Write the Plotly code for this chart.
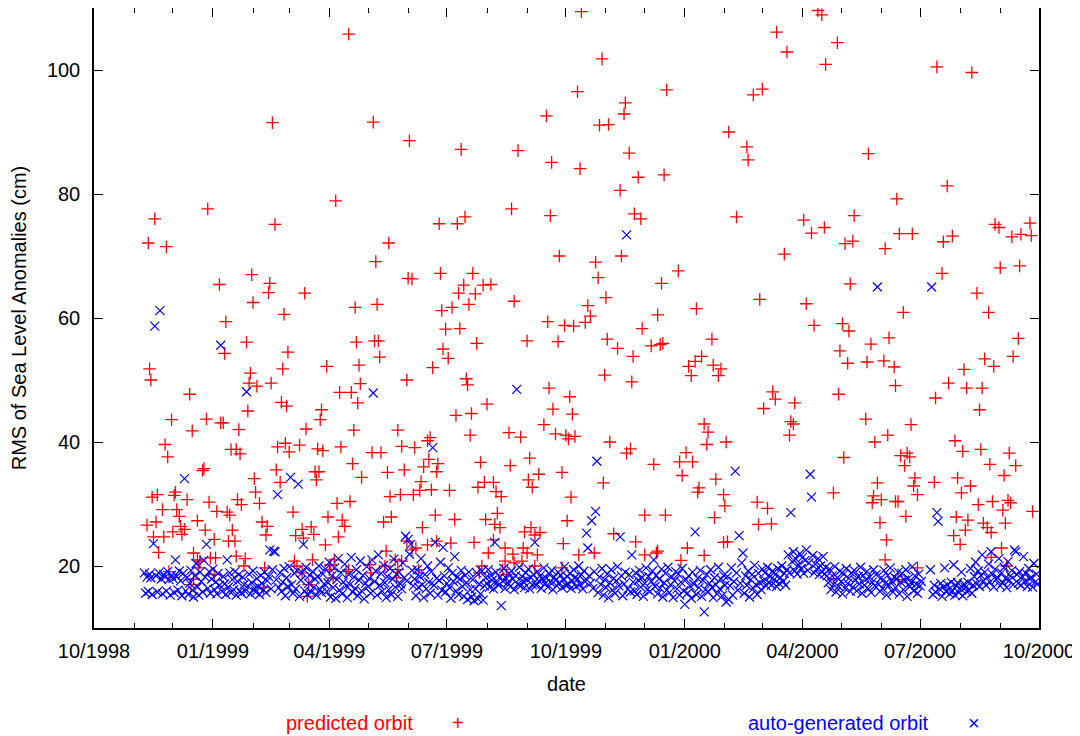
import pandas as pd
import plotly.graph_objects as go

START = "1998-10-01"

# predicted orbit: (day offset from START, RMS value in cm)
predicted = [
    (88, 77.6), (47, 76.0), (42, 72.1), (56, 71.5), (122, 67.0), (97, 65.4), (123, 62.5), (102, 59.4),
    (118, 56.1), (101, 54.3), (43, 51.8), (44, 50.0), (121, 51.1), (120, 49.5), (126, 49.0), (74, 47.7),
    (119, 45.0), (60, 43.6), (87, 43.7), (98, 43.1), (100, 43.1), (76, 41.8), (112, 42.0), (55, 39.6),
    (57, 37.6), (106, 38.8), (110, 38.8), (113, 38.1), (85, 35.7), (84, 35.4), (124, 34.1), (125, 31.9),
    (45, 31.1), (49, 31.5), (62, 31.4), (63, 31.9), (72, 30.7), (53, 29.1), (64, 29.1), (89, 30.3),
    (111, 30.7), (114, 29.9), (95, 28.8), (103, 28.7), (105, 28.2), (41, 26.6), (48, 27.1), (66, 28.0),
    (80, 27.3), (61, 25.5), (67, 26.4), (70, 25.9), (68, 25.1), (86, 25.8), (107, 25.8), (104, 24.0),
    (109, 24.0), (46, 24.7), (54, 24.7), (50, 22.2), (93, 24.3), (77, 22.1),
    (197, 105.8), (138, 91.5), (216, 91.6), (244, 88.6), (187, 78.9), (140, 75.1), (228, 72.1), (218, 69.1),
    (136, 65.6), (135, 64.1), (163, 64.0), (243, 66.4), (246, 66.3), (147, 60.6), (202, 61.7), (219, 62.2),
    (203, 56.1), (217, 56.3), (220, 56.3), (221, 53.7), (150, 54.5), (146, 51.8), (180, 52.2), (205, 52.4),
    (242, 50.0), (137, 49.5), (206, 49.4), (190, 48.0), (199, 48.0), (204, 46.3), (145, 46.4), (149, 45.8),
    (176, 45.2), (175, 43.6), (164, 42.1), (201, 41.9), (235, 41.9), (142, 39.2), (148, 39.8), (151, 38.4),
    (159, 39.5), (173, 38.9), (177, 38.6), (191, 39.2), (215, 38.3), (222, 38.3), (238, 39.3), (248, 39.1),
    (200, 36.5), (141, 35.5), (144, 33.5), (171, 35.2), (174, 35.2), (172, 33.9), (207, 34.3), (227, 35.1),
    (240, 35.5), (128, 30.1), (188, 30.1), (198, 30.4), (229, 31.2), (237, 31.5), (247, 31.5), (154, 28.7),
    (130, 27.1), (134, 26.4), (133, 25.0), (161, 25.9), (156, 24.9), (162, 24.5), (168, 26.3), (170, 25.1),
    (181, 27.9), (192, 27.4), (194, 26.4), (189, 24.7), (179, 23.4), (224, 27.1), (230, 27.9), (226, 22.4),
    (374, 96.5), (350, 92.6), (284, 87.2), (328, 87.0), (354, 85.1), (376, 84.1), (323, 77.6), (353, 76.5),
    (267, 75.2), (281, 75.2), (287, 76.3), (360, 70.0), (268, 67.2), (293, 67.2), (286, 65.3), (282, 64.0),
    (295, 63.9), (301, 65.3), (307, 65.4), (290, 62.2), (269, 61.2), (277, 61.7), (325, 62.7), (272, 58.2),
    (283, 58.3), (296, 55.9), (351, 59.4), (364, 58.8), (371, 58.7), (335, 56.3), (359, 56.2), (270, 55.0),
    (274, 53.5), (262, 52.0), (288, 50.2), (289, 49.2), (352, 48.7), (368, 47.3), (304, 46.1), (280, 44.3),
    (292, 44.6), (355, 45.3), (370, 44.5), (348, 42.8), (291, 41.1), (321, 41.5), (330, 40.8), (357, 41.3),
    (365, 41.1), (367, 40.5), (372, 40.9), (260, 40.7), (258, 40.2), (259, 37.2), (255, 36.0), (266, 36.5),
    (265, 35.2), (299, 36.7), (322, 36.2), (337, 37.4), (362, 35.1), (344, 34.8), (336, 33.9), (339, 32.7),
    (302, 33.5), (309, 33.5), (297, 32.7), (311, 32.0), (315, 31.2), (253, 33.6), (261, 32.3), (252, 32.2),
    (275, 32.2), (369, 31.1), (264, 28.2), (279, 27.5), (254, 26.2), (303, 27.5), (312, 28.5), (310, 26.7),
    (314, 26.2), (366, 27.3), (333, 25.5), (338, 26.2), (345, 25.4), (341, 25.0), (294, 23.8), (363, 23.6),
    (377, 109.4), (393, 101.8), (443, 96.8), (411, 94.7), (410, 92.9), (391, 91.1), (398, 91.2), (491, 90.0),
    (414, 86.6), (421, 82.7), (441, 83.1), (407, 80.6), (418, 76.8), (423, 76.0), (497, 76.3), (408, 70.0),
    (388, 69.0), (390, 66.5), (452, 67.6), (439, 65.6), (396, 63.3), (382, 62.0), (384, 60.3), (380, 59.3),
    (466, 61.5), (436, 60.5), (424, 58.3), (397, 56.6), (405, 55.1), (431, 55.5), (438, 55.7), (440, 55.9),
    (478, 56.6), (417, 53.8), (460, 52.2), (465, 53.0), (470, 53.8), (462, 50.7), (479, 52.4), (485, 51.8),
    (483, 50.7), (395, 50.8), (416, 49.7), (472, 42.9), (475, 41.6), (474, 39.6), (489, 40.0), (399, 40.0),
    (412, 38.2), (415, 38.9), (433, 36.4), (453, 36.8), (458, 38.3), (463, 36.8), (455, 34.6), (394, 33.4),
    (481, 34.0), (467, 31.9), (468, 32.6), (487, 31.5), (488, 29.7), (426, 28.2), (442, 28.2), (480, 27.8),
    (402, 25.2), (419, 23.9), (490, 23.9), (459, 22.9),
    (560, 109.6), (563, 108.9), (528, 106.1), (575, 104.4), (536, 102.9), (566, 100.9), (510, 96.0), (517, 96.9),
    (505, 87.6), (506, 85.5), (599, 86.5), (621, 79.2), (549, 75.8), (555, 73.7), (565, 74.6), (588, 76.5),
    (581, 72.0), (587, 72.4), (612, 71.2), (534, 70.3), (585, 65.5), (515, 63.0), (551, 62.3), (557, 58.8),
    (579, 59.1), (584, 57.9), (577, 54.7), (583, 52.7), (601, 55.8), (615, 56.8), (598, 52.9), (611, 53.1),
    (619, 52.1), (620, 49.1), (525, 48.1), (527, 46.9), (518, 45.4), (542, 46.3), (539, 43.3), (541, 42.9),
    (538, 41.1), (576, 47.7), (597, 43.7), (604, 40.0), (614, 41.1), (580, 37.5), (572, 31.8), (606, 33.4),
    (603, 31.3), (609, 30.7), (602, 30.2), (620, 30.4), (513, 30.3), (521, 29.3), (514, 26.7), (524, 26.8),
    (608, 27.0), (613, 24.2),
    (652, 100.5), (679, 99.6), (660, 81.3), (623, 73.6), (633, 73.6), (657, 72.3), (664, 73.2), (697, 75.1),
    (700, 74.6), (724, 75.3), (710, 73.1), (717, 73.5), (725, 73.3), (656, 67.2), (701, 68.1), (716, 68.4),
    (683, 64.0), (626, 60.9), (692, 60.9), (715, 56.7), (711, 53.8), (689, 53.4), (696, 52.2), (673, 51.7),
    (661, 49.5), (675, 48.7), (687, 48.7), (651, 47.1), (685, 45.2), (632, 42.8), (666, 40.2), (672, 38.5),
    (686, 38.8), (708, 38.2), (624, 37.8), (629, 38.2), (631, 37.6), (627, 36.2), (693, 36.4), (713, 36.2),
    (704, 34.6), (635, 34.2), (634, 32.9), (637, 31.5), (650, 33.5), (668, 34.2), (671, 31.8), (678, 32.9),
    (622, 30.4), (684, 29.9), (695, 30.4), (707, 30.6), (709, 30.2), (703, 29.0), (726, 28.8), (628, 28.0),
    (667, 27.9), (676, 27.4), (674, 25.8), (688, 26.9), (691, 26.2), (694, 25.4), (705, 26.9), (665, 24.9),
    (670, 23.5), (702, 22.9),
    (58, 19.1), (77, 17.9), (75, 17.0), (80, 21.0), (82, 20.8), (81, 19.7), (90, 21.3), (94, 21.3),
    (93, 18.6), (110, 21.6), (117, 21.2), (116, 20.0), (132, 19.7), (131, 16.5), (155, 20.8), (157, 20.0),
    (161, 18.9), (169, 21.0), (166, 17.0), (165, 15.1), (183, 20.2), (186, 21.0), (182, 19.4), (185, 18.1),
    (195, 19.1), (197, 19.4), (213, 20.2), (214, 18.9), (225, 20.0), (233, 21.0), (235, 19.4), (238, 20.8),
    (234, 18.1), (242, 24.0), (249, 22.9), (246, 22.6), (251, 19.4), (258, 23.4), (265, 24.0), (276, 23.7),
    (305, 22.1), (309, 24.2), (300, 20.0), (298, 18.9), (318, 22.9), (318, 20.8), (316, 19.4), (319, 18.6),
    (324, 21.9), (325, 20.5), (332, 22.9), (331, 20.8), (335, 22.1), (341, 20.0), (343, 21.8), (362, 19.7),
    (375, 21.8), (387, 22.1), (426, 21.8), (435, 22.1), (436, 22.4), (454, 20.9), (472, 21.7), (487, 23.8),
    (572, 17.9), (612, 21.0), (622, 17.8), (637, 19.7), (694, 21.4), (706, 20.0),
]

# auto-generated orbit: one value per day, starting at day offset 39 (None = no data)
auto_first_day = 39
auto_vals = [
    18.9, 15.6, 18.2, 15.9, 18.7, 18.1, 15.4, 23.6, 58.7, 18.4,
    15.8, 18.9, 61.2, 17.9, 15.5, 18.6, 18.2, 16.0, 19.1, 17.8,
    15.3, 18.5, 18.0, 15.7, 21.0, 18.3, 16.1, 19.2, 17.6, 15.2,
    18.8, 34.1, 16.0, 18.1,
    15.4, 17.2, 19.3, 16.1, 15.0, 18.4, 20.4, 16.6, 15.3, 19.0,
    17.5, 15.8, 20.9, 18.2, 23.5, 16.4, 19.1, 15.6, 17.9, 19.5, 16.2,
    17.4, 15.5, 18.8, 16.9, 55.6, 15.9, 18.3, 17.1, 15.4, 21.0,
    16.6, 18.9, 15.7, 17.8, 16.2, 19.1, 15.3, 17.5, 18.6, 16.0,
    15.6, 18.2, 17.0, 15.9, 48.1, 16.8, 18.7, 15.5, 17.3, 19.2,
    16.4, 15.8, 18.0, 16.7, 15.4, 18.5, 17.2, 16.1, 19.0, 15.7,
    17.6, 18.3, 22.6, 16.3, 19.4, 22.4, 22.3, 17.8, 31.5, 16.5,
    18.9, 15.9,
    17.4, 19.6, 15.2, 18.1, 16.7, 19.9, 34.3, 17.0, 15.6, 18.8,
    16.3, 19.3, 33.2, 15.1, 17.7, 18.9, 23.5, 16.0, 19.8, 15.4,
    17.2, 18.5, 15.8, 19.1, 16.6, 17.9, 15.3, 18.3, 20.0, 16.2,
    15.7, 18.7, 17.1, 19.5, 15.9,
    17.3, 20.6, 15.0, 18.4, 16.5, 19.7, 14.8, 17.8, 21.2, 16.1,
    18.9, 15.5, 17.4, 20.3, 16.8, 14.9, 18.6, 17.0, 21.4, 15.8,
    18.2, 16.4, 19.4, 15.2, 17.7, 20.8, 16.0, 18.5, 14.7, 17.2,
    19.9, 16.7, 18.0, 15.6, 21.0, 47.9, 17.5, 19.2, 15.3, 21.8,
    16.9, 18.8, 15.9, 20.1, 17.3, 14.9, 18.3, 16.2, 19.6, 15.4,
    17.9, 21.1, 16.6, 18.7, 15.1, 19.0, 17.1, 16.3, 20.5, 18.1,
    24.8, 17.6, 24.3, 21.9, 23.5, 19.3, 16.8,
    17.9, 15.2, 19.4, 16.6, 18.3, 21.2, 17.0, 14.9, 18.6, 16.3,
    20.0, 17.4, 15.6, 19.1, 39.1, 16.9, 23.8, 18.0, 15.3, 17.7,
    20.6, 16.1, 23.0, 18.4, 15.8, 17.2, 19.7, 16.5, 14.8, 18.8,
    17.5, 21.5, 16.0, 18.2, 15.4, 17.9, 19.3, 16.7, 15.1, 18.5,
    17.3, 14.6, 19.0, 16.2, 15.0,
    17.8, 14.4, 16.3, 18.9, 14.7, 17.1, 15.5, 19.2, 14.5, 16.8,
    18.1, 17.2, 19.4, 16.6, 18.5, 17.7, 16.3, 23.8, 19.0, 17.4,
    16.9, 18.2, 13.6, 17.6, 19.6, 16.4, 18.0, 17.3, 18.8, 16.7,
    19.2, 17.9, 16.2, 18.4, 48.5, 17.1, 19.8, 16.8, 18.3, 17.5,
    16.5, 18.9, 17.8, 19.5, 16.3, 18.1, 17.0, 18.6, 23.8, 16.9,
    19.1, 17.6, 18.4, 16.4, 17.9, 19.7, 17.2, 18.0, 16.6, 18.7,
    17.4, 19.3, 16.2, 18.2, 17.7, 16.8, 19.0, 17.3, 18.5, 16.5,
    17.8, 19.9, 16.9, 18.3, 17.1, 18.8, 16.4, 17.6, 19.4, 18.1,
    16.7, 17.9, 20.0, 17.0, 18.6, 16.3, 19.2, 17.5, 25.3, 22.9,
    18.4, 17.2, 27.3,
    16.4, 19.1, 28.8, 36.9, 15.7, 18.2, 17.0, 19.6, 15.3, 17.8,
    16.5, 18.7, 14.9, 17.3, 19.4, 16.1, 18.0, 15.6, 17.6, 19.9,
    16.8, 24.7, 18.4, 15.2, 17.1, 19.0, 73.4, 16.3, 18.6, 15.8,
    21.8, 17.4, 16.0, 18.9, 15.4, 17.7, 19.3, 16.6, 18.1, 15.1,
    17.2, 19.7, 16.2, 18.3, 15.9, 17.5, 19.2, 21.0, 16.7, 18.5,
    15.5, 17.9, 16.4, 19.5, 15.0, 17.3, 18.8, 16.1, 19.8, 15.7,
    17.0, 18.2, 14.9, 17.6, 19.1, 16.3, 18.7, 15.3, 17.4, 19.6,
    16.0, 13.8, 17.8, 15.6, 18.4, 16.8, 14.8, 19.0, 17.1, 25.5,
    15.4, 18.0, 16.5, 19.3, 15.1, 17.7, 12.6, 16.2, 18.6, 15.8,
    17.2, 19.4, 16.6, 14.9, 18.1, 17.0, 15.5, 19.8, 16.3, 17.9,
    15.2, 18.5, 16.9,
    14.2, 18.3, 14.6, 16.8, 19.7, 15.3, 17.5, 35.3, 18.9, 16.1,
    24.9, 17.2, 20.5, 22.1, 15.6, 18.4, 16.9, 19.2, 15.0, 17.8,
    18.6, 16.4, 20.1, 17.0, 15.4, 18.8, 17.3, 16.2, 19.5,
    17.6, 18.9, 16.8, 19.8, 17.4, 18.3, 16.9, 19.2, 17.8, 18.6,
    16.7, 19.6, 17.2, 18.1, 20.0, 17.5, 18.8, 16.9,
    19.4, 21.8, 18.9, 28.6, 20.7, 22.3, 19.2, 21.1, 18.7, 20.2,
    22.0, 19.6, 21.4, 18.8, 20.9, 22.6, 19.3, 20.5, 34.8, 31.1,
    21.7, 18.9, 20.3, 19.5, 21.2, 18.6, 20.0, 19.1, 21.5, 18.7,
    19.8, 18.4,
    17.3, 19.5, 16.2, 18.4, 17.0, 19.9, 15.8, 18.1, 16.7, 19.2,
    17.5, 15.5, 18.7, 16.4, 19.6, 17.2, 18.0, 15.9, 18.9, 16.6,
    19.3, 17.7, 16.0, 18.3, 17.1, 19.8, 15.6, 18.5, 16.9, 17.8,
    19.1, 16.3, 18.2, 15.7, 17.4, 19.4, 16.8, 18.6, 65.0, 17.0,
    15.9,
    18.1, 16.4, 19.3, 17.2, 15.3, 18.5, 16.9, 19.7, 17.6, 15.8,
    18.2, 16.5, 17.9, 19.0, 15.5, 17.4, 18.8, 16.2, 17.7, 19.4,
    15.1, 18.0, 16.7, 17.3, 19.9, 16.0, 18.4, 17.1, 15.6, 18.7,
    16.8, 17.5,
    None, None, None, None, None, None,
    19.4, 65.0, 15.4, 16.9, 15.8, 28.6, 27.2, 16.3, 17.2, 15.1,
    16.6, 19.7, 15.9, 17.0, 16.2, 15.5, 17.4, 16.0, 20.2, 15.3,
    16.8, 17.3, 15.7, 16.4, 19.0, 15.2, 17.1, 16.5, 15.9, 17.4,
    16.1, 19.6, 15.6, 16.9,
    18.3, 20.6, 17.1, 19.2, 16.7, 18.5, 21.8, 17.6, 19.0, 16.9,
    18.2, 20.3, 17.4, 22.3, 18.7, 16.6, 19.5, 17.8, 18.1, 21.2,
    16.8, 18.9, 17.3, 19.8, 18.0, 16.5, 20.7, 17.7, 18.4, 19.3,
    17.0, 22.6, 22.3, 18.6, 17.2, 19.1, 16.9, 18.3, 21.5, 17.5,
    18.8, 16.7, 19.6, 17.9, 18.2, 16.6, 20.4, 17.4, 18.7, 17.1,
]

x_tick_dates = ["1998-10-01", "1999-01-01", "1999-04-01", "1999-07-01", "1999-10-01",
                "2000-01-01", "2000-04-01", "2000-07-01", "2000-10-01"]
x_tick_text = ["10/1998", "01/1999", "04/1999", "07/1999", "10/1999",
               "01/2000", "04/2000", "07/2000", "10/2000"]
y_ticks = [20, 40, 60, 80, 100]

base = pd.Timestamp(START)
pred_x = [base + pd.Timedelta(days=d) for d, _ in predicted]
pred_y = [v for _, v in predicted]
auto_x = [base + pd.Timedelta(days=auto_first_day + i) for i, v in enumerate(auto_vals) if v is not None]
auto_y = [v for v in auto_vals if v is not None]

FONT = "Liberation Sans, Arial, Helvetica, sans-serif"

fig = go.Figure()
fig.add_trace(go.Scatter(
    x=pred_x, y=pred_y, mode="markers", name="predicted orbit", showlegend=False,
    marker=dict(symbol="cross-thin", size=9, color="#ff0000",
                line=dict(color="#ff0000", width=1.3)),
))
fig.add_trace(go.Scatter(
    x=auto_x, y=auto_y, mode="markers", name="auto-generated orbit", showlegend=False,
    marker=dict(symbol="x-thin", size=9, color="#0000ff",
                line=dict(color="#0000ff", width=1.2)),
))

axis_common = dict(
    showgrid=False, zeroline=False, showline=True, linecolor="black", linewidth=1.5,
    mirror="ticks", ticks="inside", ticklen=9, tickwidth=1, tickcolor="black",
    tickfont=dict(family=FONT, size=20, color="black"), automargin=False,
)

LEG_Y = -0.1532

# page body has an 8px default margin, so the figure is 8px smaller than the window
fig.update_layout(
    width=1072, height=728,
    margin=dict(l=86, r=41, t=0, b=108),
    paper_bgcolor="white", plot_bgcolor="white",
    font=dict(family=FONT, size=20, color="black"),
    xaxis=dict(
        type="date",
        range=[base, base + pd.Timedelta(days=731)],
        tickvals=x_tick_dates, ticktext=x_tick_text,
        minor=dict(dtick="M1", tick0=START, ticks="inside", ticklen=5,
                   tickcolor="black", tickwidth=1, showgrid=False),
        ticklabelstandoff=4,
        title=dict(text="date", font=dict(family=FONT, size=20), standoff=16),
        **axis_common,
    ),
    yaxis=dict(
        range=[10, 110], tickvals=y_ticks,
        ticklabelstandoff=8,
        title=dict(text="RMS of Sea Level Anomalies (cm)", font=dict(family=FONT, size=20), standoff=19),
        **axis_common,
    ),
    annotations=[
        dict(text="predicted orbit", xref="paper", yref="paper", x=0.3397, y=LEG_Y,
             xanchor="right", yanchor="middle", showarrow=False,
             font=dict(family=FONT, size=20, color="#ff0000")),
        dict(text="+", xref="paper", yref="paper", x=0.385, y=LEG_Y,
             xanchor="center", yanchor="middle", showarrow=False,
             font=dict(family=FONT, size=20, color="#ff0000")),
        dict(text="auto-generated orbit", xref="paper", yref="paper", x=0.8857, y=LEG_Y,
             xanchor="right", yanchor="middle", showarrow=False,
             font=dict(family=FONT, size=20, color="#0000ff")),
        dict(text="×", xref="paper", yref="paper", x=0.931, y=LEG_Y,
             xanchor="center", yanchor="middle", showarrow=False,
             font=dict(family=FONT, size=20, color="#0000ff")),
    ],
)

fig.write_html("out.html")
